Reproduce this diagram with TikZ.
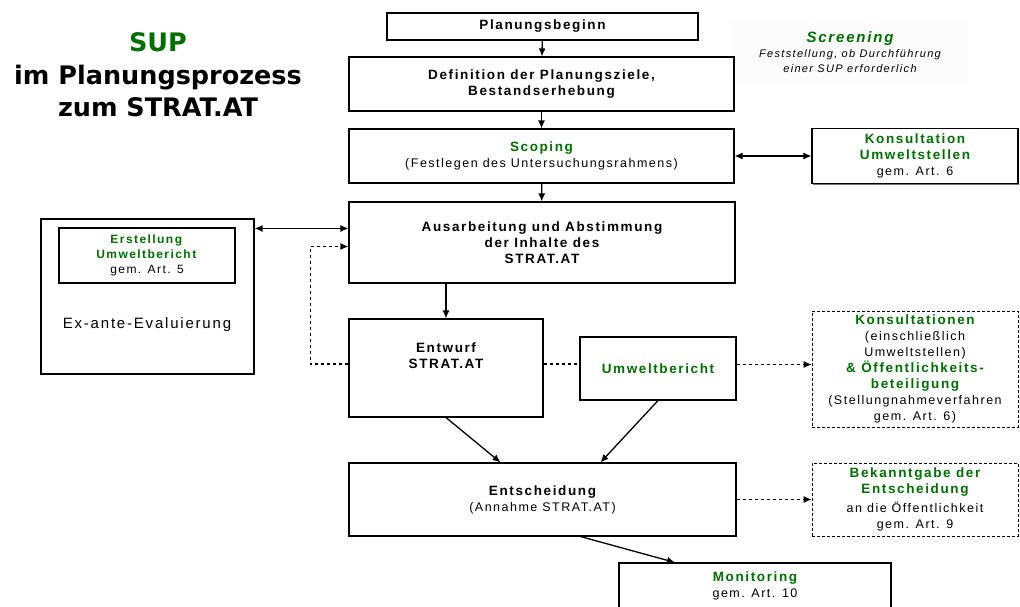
\documentclass[tikz,border=0pt]{standalone}
\usepackage{fontspec}
\setmainfont{Liberation Sans}[LetterSpace=12]
\newfontfamily\titlefont{DejaVu Sans}
\usepackage{tikz}
\usetikzlibrary{arrows.meta,shadows}

\definecolor{supgreen}{RGB}{0,110,0}
\newcommand{\boxtext}{\fontsize{12.5}{16}\selectfont}
\newcommand{\bx}[1]{{\bfseries\fontsize{13.5}{17}\selectfont #1}}
\newcommand{\grn}[1]{{\color{supgreen}\bfseries\fontsize{13.5}{17}\selectfont #1}}

\begin{document}
\begin{tikzpicture}[>={Latex[length=8pt,width=7pt]}, x=1pt, y=-1pt]
  \tikzstyle{box} = [draw, line width=1.1pt, fill=white, rectangle, inner sep=0pt, align=center, font=\boxtext, drop shadow={shadow xshift=1.4pt, shadow yshift=-1.4pt, fill=black!55, opacity=1}]
  \tikzstyle{dashbox} = [draw, densely dashed, line width=0.6pt, fill=white, rectangle, inner sep=0pt, align=center, font=\boxtext]
  \tikzstyle{titletext} = [align=center, font={\titlefont\bfseries\fontsize{25.5}{32.5}\selectfont}]

  \tikzstyle{flow} = [black, line width=1.3pt, ->]
  \tikzstyle{dashflow} = [flow, dashed]

  \useasboundingbox (0,0) rectangle (1020,606);
  \fill[white] (0,0) rectangle (1020,606);

  \node[titletext] (title) at (158,75) {\textcolor{supgreen}{SUP}\\im Planungsprozess\\zum STRAT.AT};

  \node[rectangle, fill=black!1.5, inner sep=0pt, minimum width=237pt, minimum height=63pt, align=center,
        font={\itshape\fontsize{11}{15}\selectfont}] (screen) at (850,52)
        {{\color{supgreen}\bfseries\fontsize{15}{18}\selectfont Screening}\\Feststellung, ob Durchführung\\einer SUP erforderlich};

  \node[box, minimum width=311pt, minimum height=27pt] (plan) at (542.5,26.5) {\bx{Planungsbeginn}};
  \node[box, minimum width=385pt, minimum height=54pt] (defi) at (541.5,84) {\bx{Definition der Planungsziele,}\\\bx{Bestandserhebung}};
  \node[box, minimum width=385pt, minimum height=54pt] (scop) at (541.5,156) {\grn{Scoping}\\(Festlegen des Untersuchungsrahmens)};
  \node[box, minimum width=206pt, minimum height=55pt] (kons) at (915,156) {\grn{Konsultation}\\\grn{Umweltstellen}\\gem. Art. 6};
  \node[box, minimum width=386pt, minimum height=81pt] (ausa) at (542,242.5) {\bx{Ausarbeitung und Abstimmung}\\\bx{der Inhalte des}\\\bx{STRAT.AT}};

  % linker Block
  \node[box, minimum width=213pt, minimum height=155pt] (exante) at (147.5,296.5) {};
  \node[draw, line width=1.1pt, fill=white, inner sep=0pt, align=center, minimum width=176pt, minimum height=55pt, font={\fontsize{12}{15}\selectfont}] (erst) at (147,255.5)
        {\textcolor{supgreen}{\textbf{Erstellung}}\\\textcolor{supgreen}{\textbf{Umweltbericht}}\\gem. Art. 5};
  \node[font={\fontsize{15}{18}\selectfont}] (evaltext) at (147,325) {Ex-ante-Evaluierung};

  \node[box, minimum width=194pt, minimum height=98pt] (entw) at (446,368) {\bx{Entwurf}\\\bx{STRAT.AT}\\[8pt]};
  \node[box, minimum width=156pt, minimum height=63pt] (umwb) at (658,368.5) {\grn{Umweltbericht}};
  \node[dashbox, minimum width=206pt, minimum height=116pt] (konsoff) at (915,369)
        {\grn{Konsultationen}\\(einschließlich\\Umweltstellen)\\\grn{\& Öffentlichkeits-}\\\grn{beteiligung}\\(Stellungnahmeverfahren\\gem. Art. 6)};

  \node[box, minimum width=387pt, minimum height=73pt] (ents) at (542.5,499.5) {\bx{Entscheidung}\\(Annahme STRAT.AT)};
  \node[dashbox, minimum width=206pt, minimum height=73pt] (bekannt) at (915,499.5)
        {\grn{Bekanntgabe der}\\\grn{Entscheidung}\\[3pt]an die Öffentlichkeit\\gem. Art. 9};
  \node[box, minimum width=272pt, minimum height=46pt] (moni) at (755,586) {\grn{Monitoring}\\gem. Art. 10};

  % Verbindungen
  \draw[flow] (plan) -- (defi);
  \draw[flow] (defi) -- (scop);
  \draw[flow] (scop) -- (ausa);
  \draw[flow, <->] (scop.east) -- (kons.west);
  \draw[flow, <->] ([yshift=-10pt]exante.north east) -- ([yshift=-10pt]exante.north east -| ausa.west);
  \draw[dashflow] ([yshift=4pt]entw.west) -- ++(-38,0) |- ([yshift=-4pt]ausa.west);
  \draw[flow] (ausa.south -| entw.north) -- (entw.north);
  \draw[dashed, line width=1.3pt] ([yshift=4pt]entw.east) -- ([yshift=4pt]entw.east -| umwb.west);
  \draw[dashflow] ([yshift=4pt]umwb.east) -- ([yshift=4pt]umwb.east -| konsoff.west);
  \draw[flow] (entw.south) -- ([xshift=-42pt]ents.north);
  \draw[flow] (umwb.south) -- ([xshift=58pt]ents.north);
  \draw[dashflow] (ents.east) -- (bekannt.west);
  \draw[flow] ([xshift=38pt]ents.south) -- ([xshift=-80pt]moni.north);
\end{tikzpicture}
\end{document}
